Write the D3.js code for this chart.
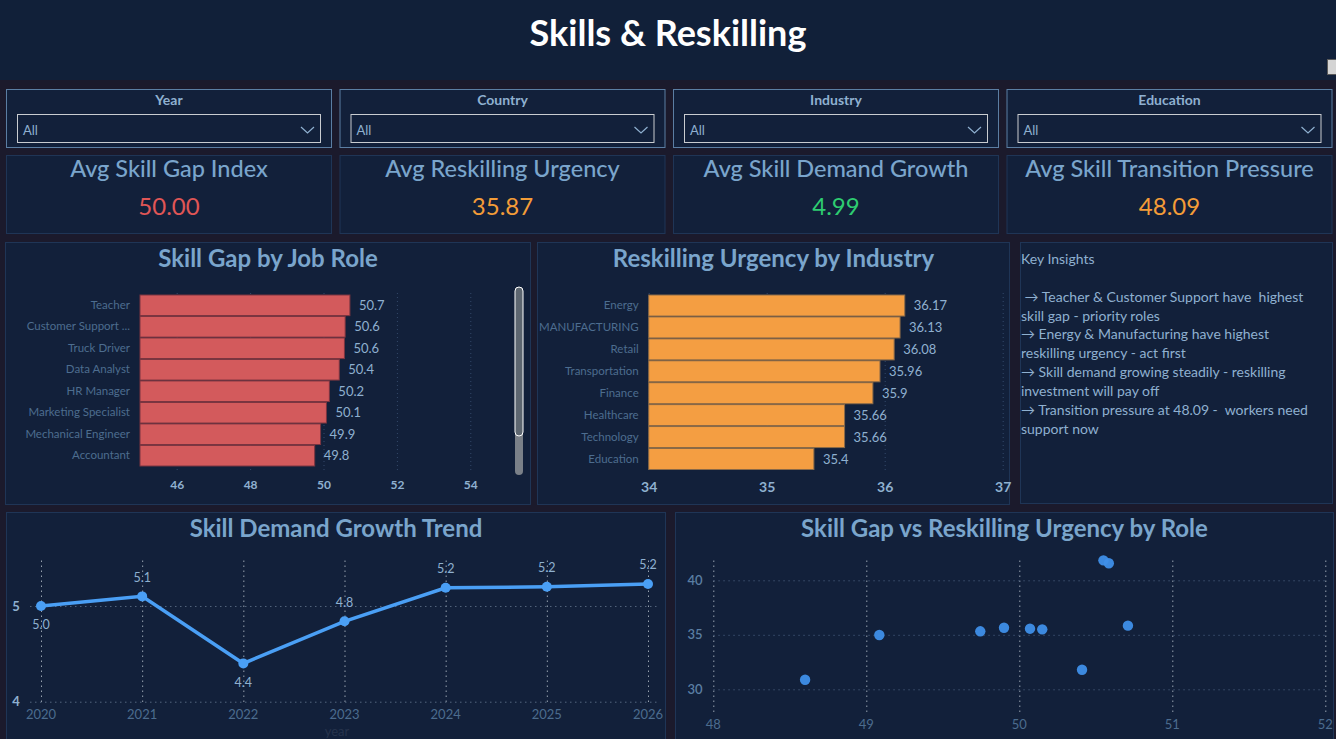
<!DOCTYPE html>
<html>
<head>
<meta charset="utf-8">
<script src="https://cdnjs.cloudflare.com/ajax/libs/d3/7.8.5/d3.min.js"></script>
<style>
  body { margin: 0; background: #1b1a2c; overflow: hidden; }
  text { font-family: "Segoe UI", Lato, "Open Sans", sans-serif; }
</style>
</head>
<body>
<script>
// data
const filterNames = ["Year", "Country", "Industry", "Education"];
const kpiTitles = ["Avg Skill Gap Index", "Avg Reskilling Urgency", "Avg Skill Demand Growth", "Avg Skill Transition Pressure"];
const kpiValues = [50.00, 35.87, 4.99, 48.09];

const roles = ["Teacher", "Customer Support ...", "Truck Driver", "Data Analyst", "HR Manager",
  "Marketing Specialist", "Mechanical Engineer", "Accountant"];
const roleGap = [50.72, 50.59, 50.57, 50.43, 50.16, 50.08, 49.92, 49.76];
const gapTicks = [46, 48, 50, 52, 54];

const industries = ["Energy", "MANUFACTURING", "Retail", "Transportation", "Finance", "Healthcare", "Technology", "Education"];
const industryUrgency = [36.17, 36.13, 36.08, 35.96, 35.9, 35.66, 35.66, 35.4];
const urgencyTicks = [34, 35, 36, 37];

const years = [2020, 2021, 2022, 2023, 2024, 2025, 2026];
const demandGrowth = [5.0, 5.1, 4.4, 4.84, 5.19, 5.2, 5.23];
const growthTicks = [4, 5];

// scatter: one point per role (10 roles, bar chart shows 8 of them)
const scatterGap = [48.60, 49.085, 49.745, 49.90, 50.07, 50.15, 50.41, 50.55, 50.585, 50.71];
const scatterUrgency = [30.88, 34.98, 35.32, 35.65, 35.56, 35.50, 31.79, 41.83, 41.56, 35.84];
const scatterXTicks = [48, 49, 50, 51, 52];
const scatterYTicks = [30, 35, 40];

const insights = [
  "Key Insights",
  "",
  " \u2192 Teacher & Customer Support have  highest",
  "skill gap - priority roles",
  "\u2192 Energy & Manufacturing have highest",
  "reskilling urgency - act first",
  "\u2192 Skill demand growing steadily - reskilling",
  "investment will pay off",
  "\u2192 Transition pressure at 48.09 -  workers need",
  "support now"
];

// colours
const panelFill = "#12203a", panelStroke = "#1f3556";
const titleCol = "#7aa5cc", labelCol = "#8fb0d0", dimCol = "#4c6c8e";
const kpiColors = ["#e05656", "#f39c38", "#2ecc71", "#f39c38"];

var svg = d3.select("body").append("svg")
    .attr("width", 1336)
    .attr("height", 739);

// header
svg.append("rect").attr("width", 1336).attr("height", 80).attr("fill", "#112039");
svg.append("text").attr("x", 668).attr("y", 46).attr("text-anchor", "middle")
  .attr("font-size", 36).attr("font-weight", 700).attr("fill", "#ffffff")
  .text("Skills & Reskilling");
svg.append("rect").attr("x", 1327.5).attr("y", 59.5).attr("width", 9).attr("height", 15)
  .attr("fill", "#d4d4d4").attr("stroke", "#5a5a5a");

const colX = i => 6 + i * 333.5;

// slicers
filterNames.forEach((name, i) => {
  const x0 = colX(i);
  const g = svg.append("g");
  g.append("rect").attr("x", x0 + 0.5).attr("y", 89.5).attr("width", 325).attr("height", 58)
    .attr("fill", panelFill).attr("stroke", "#5b7ea3");
  g.append("text").attr("x", x0 + 163).attr("y", 105).attr("text-anchor", "middle")
    .attr("font-size", 14).attr("font-weight", 700).attr("fill", labelCol).text(name);
  g.append("rect").attr("x", x0 + 11.5).attr("y", 114.5).attr("width", 303).attr("height", 28)
    .attr("fill", panelFill).attr("stroke", "#c9ccd0");
  g.append("text").attr("x", x0 + 17).attr("y", 135).attr("font-size", 13).attr("fill", labelCol).text("All");
  g.append("path").attr("d", `M${x0 + 295},127 L${x0 + 301.5},133 L${x0 + 308},127`)
    .attr("fill", "none").attr("stroke", labelCol).attr("stroke-width", 1.2);
});

// KPI cards
kpiTitles.forEach((t, i) => {
  const x0 = colX(i);
  svg.append("rect").attr("x", x0 + 0.5).attr("y", 155.5).attr("width", 325).attr("height", 78)
    .attr("fill", panelFill).attr("stroke", panelStroke);
  svg.append("text").attr("x", x0 + 163).attr("y", 177).attr("text-anchor", "middle")
    .attr("font-size", 23.5).attr("font-weight", 500).attr("fill", titleCol).text(t);
  svg.append("text").attr("x", x0 + 163).attr("y", 215).attr("text-anchor", "middle")
    .attr("font-size", 24).attr("fill", kpiColors[i]).text(d3.format(".2f")(kpiValues[i]));
});

function panel(x, y, w, h, title, ty) {
  svg.append("rect").attr("x", x).attr("y", y).attr("width", w).attr("height", h)
    .attr("fill", panelFill).attr("stroke", panelStroke);
  if (title) {
    svg.append("text").attr("x", x + w / 2).attr("y", ty).attr("text-anchor", "middle")
      .attr("font-size", 24).attr("font-weight", 700).attr("fill", titleCol).text(title);
  }
}

panel(5.5, 242.5, 525, 262, "Skill Gap by Job Role", 267);
panel(537.5, 242.5, 472, 262, "Reskilling Urgency by Industry", 267);
panel(1020.5, 242.5, 312, 261, null);
panel(6.5, 512.5, 659, 240, "Skill Demand Growth Trend", 537);
panel(675.5, 512.5, 658, 240, "Skill Gap vs Reskilling Urgency by Role", 537);

// horizontal bar chart helper
function barChart(cats, vals, domain, range, yRange, ticks, fill, edge, tickSize, fmt) {
  const x = d3.scaleLinear().domain(domain).range(range);
  const y = d3.scaleBand().domain(cats).range(yRange).paddingInner(0.04);
  const g = svg.append("g");

  // dotted grid
  g.append("g").attr("transform", "translate(0,470)")
    .call(d3.axisBottom(x).tickValues(ticks).tickSize(-180).tickFormat(""))
    .call(a => a.select(".domain").remove())
    .selectAll("line").attr("stroke", "#34496a").attr("stroke-dasharray", "1,3");

  g.selectAll(".bar").data(vals).join("rect")
    .attr("x", x(domain[0]))
    .attr("y", (d, i) => y(cats[i]))
    .attr("width", d => x(d) - x(domain[0]))
    .attr("height", y.bandwidth())
    .attr("fill", fill).attr("stroke", edge).attr("stroke-width", 1);

  g.selectAll(".val").data(vals).join("text")
    .attr("x", d => x(d) + 9)
    .attr("y", (d, i) => y(cats[i]) + y.bandwidth() / 2)
    .attr("dy", "0.35em")
    .attr("font-size", 13).attr("fill", labelCol)
    .text(fmt);

  const ya = g.append("g").attr("transform", `translate(${range[0]},0)`)
    .call(d3.axisLeft(y).tickSize(0).tickPadding(10));
  ya.select(".domain").remove();
  ya.selectAll("text").attr("font-size", 11.5).attr("fill", "#4d6d8f")
    .style("font-family", "\"Segoe UI\", Lato, sans-serif");

  const xa = g.append("g").attr("transform", "translate(0,470)")
    .call(d3.axisBottom(x).tickValues(ticks).tickFormat(d3.format("d")).tickSize(0)
      .tickPadding(tickSize === 12 ? 10 : 12));
  xa.select(".domain").remove();
  xa.selectAll("text").attr("font-size", tickSize).attr("font-weight", 700).attr("fill", labelCol)
    .style("font-family", "\"Segoe UI\", Lato, sans-serif");
  return g;
}

barChart(roles, roleGap, [45, 55], [140, 507], [295, 466], gapTicks,
  "#d35a5c", "#7a3540", 12, d3.format(".1f"));

// scrollbar of the role visual
svg.append("rect").attr("x", 515).attr("y", 287).attr("width", 8).attr("height", 188).attr("rx", 4)
  .attr("fill", "#7a8088");
svg.append("rect").attr("x", 515).attr("y", 287).attr("width", 8).attr("height", 149).attr("rx", 4)
  .attr("fill", "#5d6670").attr("stroke", "#ffffff").attr("stroke-width", 1);

barChart(industries, industryUrgency, [34, 37], [648.7, 1002.7], [295, 469.5], urgencyTicks,
  "#f49e42", "#8a6a48", 14, d => String(d));

// insights text
const ins = svg.append("text").attr("font-size", 14).attr("fill", labelCol)
  .attr("xml:space", "preserve").style("white-space", "pre");
insights.forEach((line, i) => {
  ins.append("tspan").attr("x", 1021).attr("y", 264 + i * 18.85).text(line);
});

// line chart
const lx = d3.scaleLinear().domain([2020, 2026]).range([41, 648]);
const ly = d3.scaleLinear().domain([4, 5.48]).range([701.7, 560]);
const lg = svg.append("g");

lg.append("g").attr("transform", "translate(0,702)")
  .call(d3.axisBottom(lx).tickValues(years).tickSize(-142).tickFormat(""))
  .call(a => a.select(".domain").remove())
  .selectAll("line").attr("stroke", "#c3ccd6").attr("stroke-opacity", 0.75).attr("stroke-dasharray", "1.5,3.5");

lg.append("g").attr("transform", "translate(30,0)")
  .call(d3.axisLeft(ly).tickValues(growthTicks).tickSize(-630).tickFormat(""))
  .call(a => a.select(".domain").remove())
  .selectAll("line").attr("stroke", "#55667e").attr("stroke-dasharray", "1.5,3.5");

lg.selectAll(".yt").data(growthTicks).join("text")
  .attr("x", 16).attr("y", d => ly(d)).attr("dy", "0.35em").attr("text-anchor", "middle")
  .attr("font-size", 13).attr("font-weight", 700).attr("fill", labelCol).text(d => d);

lg.selectAll(".xt").data(years).join("text")
  .attr("x", d => lx(d)).attr("y", 719).attr("text-anchor", "middle")
  .attr("font-size", 13).attr("fill", dimCol).text(d => d);

lg.append("text").attr("x", 337).attr("y", 736).attr("text-anchor", "middle")
  .attr("font-size", 13).attr("fill", "#26334c").text("year");

const line = d3.line().x((d, i) => lx(years[i])).y(d => ly(d));
lg.append("path").datum(demandGrowth).attr("d", line)
  .attr("fill", "none").attr("stroke", "#4a9ff5").attr("stroke-width", 3.5);

lg.selectAll(".pt").data(demandGrowth).join("circle")
  .attr("cx", (d, i) => lx(years[i])).attr("cy", d => ly(d)).attr("r", 5)
  .attr("fill", "#4a9ff5");

const below = (d, i, arr) => i === 0 ? d < arr[1] : d < arr[i - 1];
lg.selectAll(".lbl").data(demandGrowth).join("text")
  .attr("x", (d, i) => lx(years[i]))
  .attr("y", (d, i) => ly(d) + (below(d, i, demandGrowth) ? 19 : -19))
  .attr("dy", "0.35em").attr("text-anchor", "middle")
  .attr("font-size", 12.5).attr("fill", labelCol)
  .text(d => d3.format(".1f")(d));

// scatter
const sx = d3.scaleLinear().domain([48, 52]).range([713.3, 1325.3]);
const sy = d3.scaleLinear().domain([30, 40]).range([689.3, 580.3]);
const sg = svg.append("g");

sg.append("g").attr("transform", "translate(0,712)")
  .call(d3.axisBottom(sx).tickValues(scatterXTicks).tickSize(-154).tickFormat(""))
  .call(a => a.select(".domain").remove())
  .selectAll("line").attr("stroke", "#c3ccd6").attr("stroke-opacity", 0.75).attr("stroke-dasharray", "1.5,3.5");

sg.append("g").attr("transform", "translate(713.3,0)")
  .call(d3.axisLeft(sy).tickValues(scatterYTicks).tickSize(-612).tickFormat(""))
  .call(a => a.select(".domain").remove())
  .selectAll("line").attr("stroke", "#3d5170").attr("stroke-dasharray", "1.5,3.5");

sg.selectAll(".yt").data(scatterYTicks).join("text")
  .attr("x", 695).attr("y", d => sy(d)).attr("dy", "0.35em").attr("text-anchor", "middle")
  .attr("font-size", 13).attr("font-weight", 600).attr("fill", "#5a7ea3").text(d => d);

sg.selectAll(".xt").data(scatterXTicks).join("text")
  .attr("x", d => sx(d)).attr("y", 728.5).attr("text-anchor", "middle")
  .attr("font-size", 13).attr("fill", dimCol).text(d => d);

sg.selectAll(".dot").data(scatterGap).join("circle")
  .attr("cx", d => sx(d)).attr("cy", (d, i) => sy(scatterUrgency[i])).attr("r", 5.2)
  .attr("fill", "#3f8fe8").attr("fill-opacity", 0.95);
</script>
</body>
</html>
